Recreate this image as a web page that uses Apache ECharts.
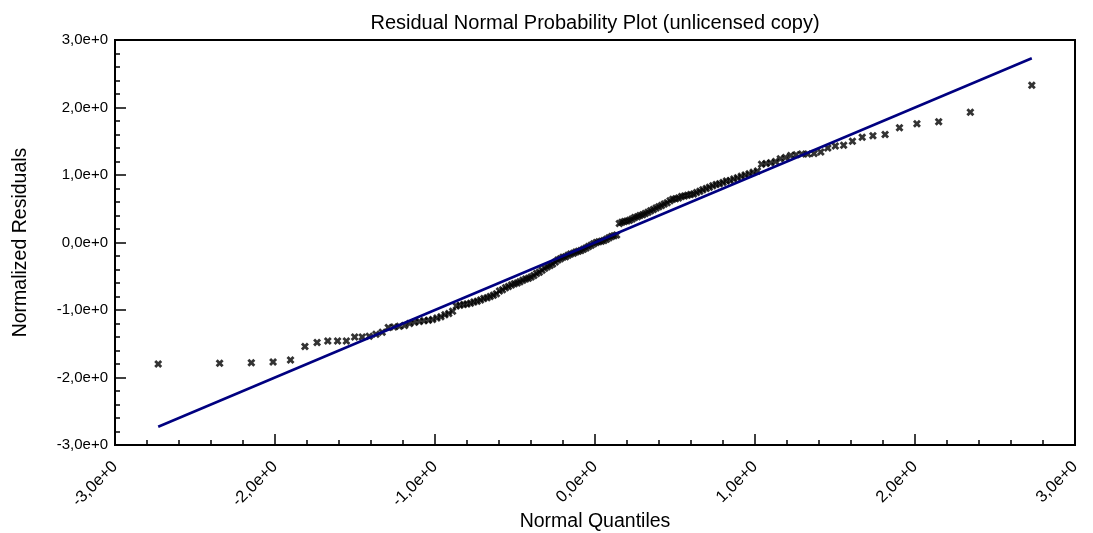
<!DOCTYPE html>
<html>
<head>
<meta charset="utf-8">
<script src="https://cdn.jsdelivr.net/npm/echarts@6/dist/echarts.min.js"></script>
<style>
  html, body { margin: 0; padding: 0; background: #fff; }
  #chart { width: 1093px; height: 533px; }
</style>
</head>
<body>
<div id="chart"></div>
<script>
// Normal quantiles (x) of the ordered residuals
const quantiles = [
  -2.730, -2.346, -2.148, -2.012, -1.903, -1.813, -1.737, -1.670, -1.609, -1.554,
  -1.502, -1.455, -1.411, -1.369, -1.330, -1.292, -1.257, -1.223, -1.190, -1.158,
  -1.128, -1.098, -1.069, -1.041, -1.015, -0.988, -0.963, -0.938, -0.914, -0.890,
  -0.867, -0.844, -0.821, -0.800, -0.778, -0.757, -0.736, -0.715, -0.695, -0.674,
  -0.655, -0.635, -0.616, -0.597, -0.578, -0.559, -0.541, -0.522, -0.504, -0.486,
  -0.469, -0.451, -0.433, -0.416, -0.399, -0.382, -0.365, -0.348, -0.331, -0.314,
  -0.298, -0.281, -0.265, -0.248, -0.232, -0.216, -0.200, -0.184, -0.168, -0.152,
  -0.135, -0.119, -0.104, -0.088, -0.072, -0.056, -0.040, -0.024, -0.008,
   0.008,  0.024,  0.040,  0.056,  0.072,  0.088,  0.104,  0.119,  0.135,  0.152,
   0.168,  0.184,  0.200,  0.216,  0.232,  0.248,  0.265,  0.281,  0.298,  0.314,
   0.331,  0.348,  0.365,  0.382,  0.399,  0.416,  0.433,  0.451,  0.469,  0.486,
   0.504,  0.522,  0.541,  0.559,  0.578,  0.597,  0.616,  0.635,  0.655,  0.674,
   0.695,  0.715,  0.736,  0.757,  0.778,  0.800,  0.821,  0.844,  0.867,  0.890,
   0.914,  0.938,  0.963,  0.988,  1.015,  1.041,  1.069,  1.098,  1.128,  1.158,
   1.190,  1.223,  1.257,  1.292,  1.330,  1.369,  1.411,  1.455,  1.502,  1.554,
   1.609,  1.670,  1.737,  1.813,  1.903,  2.012,  2.148,  2.346,  2.730
];

// Ordered normalized residuals (y)
const residuals = [
  -1.80, -1.79, -1.78, -1.77, -1.74, -1.54, -1.48, -1.46, -1.46, -1.46,
  -1.40, -1.40, -1.39, -1.36, -1.33, -1.26, -1.25, -1.24, -1.23, -1.20,
  -1.18, -1.17, -1.16, -1.15, -1.14, -1.12, -1.10, -1.07, -1.05, -1.02,
  -0.94, -0.93, -0.92, -0.91, -0.90, -0.88, -0.87, -0.85, -0.83, -0.82,
  -0.80, -0.78, -0.76, -0.72, -0.70, -0.67, -0.65, -0.63, -0.61, -0.60,
  -0.58, -0.56, -0.54, -0.53, -0.51, -0.49, -0.46, -0.44, -0.41, -0.38,
  -0.36, -0.34, -0.32, -0.29, -0.26, -0.24, -0.22, -0.21, -0.19, -0.17,
  -0.16, -0.14, -0.13, -0.12, -0.10, -0.08, -0.06, -0.04, -0.02,
   0.00,  0.01,  0.02,  0.03,  0.05,  0.07,  0.09,  0.10,  0.11,  0.28,
   0.30,  0.31,  0.32,  0.33,  0.35,  0.37,  0.38,  0.40,  0.41,  0.43,
   0.45,  0.47,  0.49,  0.51,  0.53,  0.55,  0.57,  0.59,  0.62,  0.64,
   0.65,  0.66,  0.68,  0.69,  0.70,  0.71,  0.72,  0.74,  0.76,  0.78,
   0.80,  0.82,  0.84,  0.86,  0.87,  0.89,  0.91,  0.92,  0.94,  0.96,
   0.98,  1.00,  1.02,  1.04,  1.06,  1.16,  1.17,  1.18,  1.20,  1.24,
   1.26,  1.29,  1.30,  1.31,  1.31,  1.32,  1.34,  1.40,  1.43,  1.44,
   1.50,  1.56,  1.58,  1.60,  1.70,  1.76,  1.79,  1.93,  2.33
];

// Reference line end points (y = x over the quantile range)
const refLine = [[-2.73, -2.73], [2.73, 2.73]];

// Axis tick values
const axisTicks = [-3, -2, -1, 0, 1, 2, 3];

const FONT = '"Liberation Sans", Arial, sans-serif';
const fmt = v => v.toFixed(1).replace('.', ',') + 'e+0';
const points = quantiles.map((q, i) => [q, residuals[i]]);
const crossMark = 'path://M2.5,0L5,2.5L7.5,0L10,2.5L7.5,5L10,7.5L7.5,10L5,7.5L2.5,10L0,7.5L2.5,5L0,2.5Z';

function makeAxis(extra) {
  return Object.assign({
    type: 'value',
    min: axisTicks[0],
    max: axisTicks[axisTicks.length - 1],
    interval: 1,
    axisLine: { show: true, onZero: false, lineStyle: { color: '#000', width: 2 } },
    axisTick: { show: true, inside: true, length: 11, lineStyle: { color: '#000', width: 1.5 } },
    minorTick: { show: true, splitNumber: 5, length: 5, lineStyle: { color: '#000', width: 1.5 } },
    splitLine: { show: false },
    nameLocation: 'middle',
    nameMoveOverlap: false,
    nameTextStyle: { fontFamily: FONT, fontSize: 19.5, color: '#000' }
  }, extra);
}

const chart = echarts.init(document.getElementById('chart'), null, { renderer: 'canvas' });
chart.setOption({
  backgroundColor: '#fff',
  animation: false,
  title: {
    text: 'Residual Normal Probability Plot (unlicensed copy)',
    left: 590, top: 8, textAlign: 'center',
    textStyle: { fontFamily: FONT, fontSize: 20, fontWeight: 'normal', color: '#000' }
  },
  grid: {
    left: 115, right: 18, top: 40, bottom: 88,
    outerBoundsMode: 'none', containLabel: false,
    show: true, borderColor: '#000', borderWidth: 2, backgroundColor: '#fff'
  },
  xAxis: makeAxis({
    name: 'Normal Quantiles',
    nameGap: 67,
    axisLabel: { rotate: 45, margin: 19, formatter: fmt, fontFamily: FONT, fontSize: 16.5, color: '#000' }
  }),
  yAxis: makeAxis({
    name: 'Normalized Residuals',
    nameGap: 84,
    axisLabel: { margin: 7, formatter: fmt, fontFamily: FONT, fontSize: 15, color: '#000' }
  }),
  series: [
    {
      type: 'scatter',
      data: points,
      symbol: crossMark,
      symbolSize: 8,
      itemStyle: { color: '#000' },
      z: 2
    },
    {
      type: 'line',
      data: refLine,
      symbol: 'none',
      lineStyle: { color: '#000080', width: 2.5 },
      z: 3
    }
  ]
});
</script>
</body>
</html>
